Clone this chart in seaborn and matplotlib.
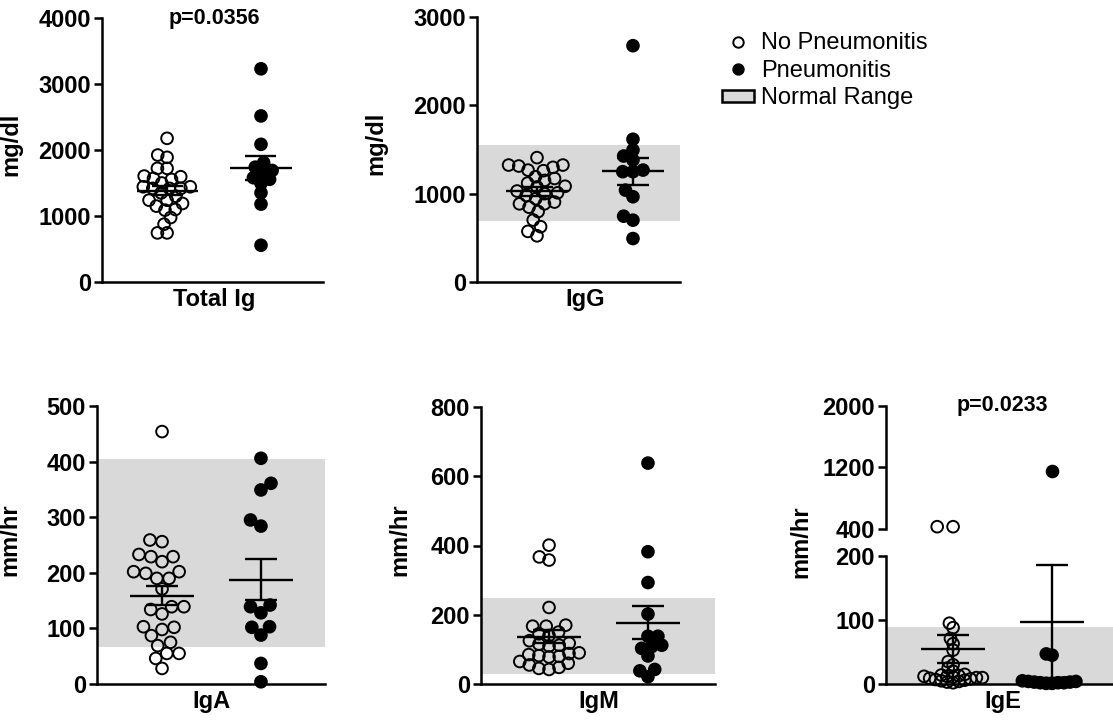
import numpy as np
import pandas as pd
import matplotlib
matplotlib.use("Agg")
import matplotlib.pyplot as plt
from matplotlib.collections import PathCollection
from matplotlib.lines import Line2D
from matplotlib.patches import Patch
import seaborn as sns

# ---------------- data ----------------
groups = ["No Pneumonitis", "Pneumonitis"]

total_no = [2177, 1924, 1889, 1722, 1722, 1605, 1595, 1570, 1554, 1500, 1443, 1443,
            1418, 1418, 1418, 1350, 1300, 1240, 1240, 1190, 1150, 1099, 1089, 977,
            876, 744, 744]
total_pn = [3230, 2516, 2086, 1808, 1740, 1690, 1640, 1580, 1556, 1494, 1352, 1180, 557]

igg_no = [1408, 1324, 1324, 1313, 1298, 1267, 1260, 1191, 1172, 1150, 1120, 1084,
          1076, 1030, 1010, 1000, 980, 943, 905, 885, 885, 847, 798, 702, 626, 573, 523]
igg_pn = [2675, 1616, 1494, 1426, 1381, 1267, 1249, 1249, 1040, 965, 745, 700, 492]

iga_no = [454, 259, 256, 233, 229, 229, 220, 202, 202, 199, 190, 190, 171, 139, 139,
          134, 126, 103, 102, 98, 87, 75, 69, 55, 55, 46, 28]
iga_pn = [406, 361, 349, 295, 284, 142, 139, 128, 103, 102, 88, 37, 4]

igm_no = [401, 367, 358, 221, 170, 167, 167, 150, 145, 140, 125, 118, 115, 112, 110,
          90, 88, 85, 82, 80, 78, 65, 60, 55, 48, 45, 42]
igm_pn = [638, 382, 293, 202, 138, 138, 112, 108, 103, 81, 42, 38, 21]

ige_no = [430, 430, 95, 88, 71, 63, 53, 35, 30, 25, 20, 15, 14, 13, 12, 12, 11, 10,
          10, 9, 8, 7, 6, 5, 4, 3, 2]
ige_pn = [1150, 47, 45, 5, 4, 4, 3, 3, 2, 2, 2, 1, 1]

igg_normal = (690, 1550)
iga_normal = (67, 405)
igm_normal = (29, 248)
ige_normal = (0, 89)

p_total = "p=0.0356"
p_ige = "p=0.0233"

# ---------------- style ----------------
sns.set_style("ticks")
plt.rcParams["font.family"] = ["Liberation Sans", "DejaVu Sans"]
plt.rcParams["font.weight"] = "bold"
plt.rcParams["axes.labelweight"] = "bold"
plt.rcParams["text.color"] = "black"
plt.rcParams["axes.labelcolor"] = "black"

W, H = 1113, 724
fig = plt.figure(figsize=(W / 100, H / 100), dpi=100)

BAND = "#d9d9d9"
DISPLAY_SIZE = 8.4
MEW = 1.4
LW = 1.7
TICK_FS = 17
palette = {groups[0]: "white", groups[1]: "black"}


def make_ax(l, t, r, b):
    return fig.add_axes([l / W, 1 - b / H, (r - l) / W, (b - t) / H])


def style_ax(ax, yticks, ylim, xlim, show_x=True):
    ax.set_ylim(*ylim)
    ax.set_xlim(*xlim)
    ax.set_yticks(yticks)
    ax.set_yticklabels([str(v) for v in yticks])
    for s in ["top", "right"]:
        ax.spines[s].set_visible(False)
    for s in ["left", "bottom"]:
        ax.spines[s].set_linewidth(1.8)
        ax.spines[s].set_color("black")
    ax.tick_params(axis="y", length=6, width=1.8, pad=2, labelsize=TICK_FS, colors="black")
    ax.tick_params(axis="x", length=0, pad=4, labelsize=17, colors="black")
    if not show_x:
        ax.spines["bottom"].set_visible(False)
        ax.set_xticks([])
    ax.set_xlabel("")
    ax.set_ylabel("")


def swarm(ax, name, no, pn, size):
    df = pd.DataFrame({
        "panel": [name] * (len(no) + len(pn)),
        "value": list(no) + list(pn),
        "group": [groups[0]] * len(no) + [groups[1]] * len(pn),
    })
    sns.swarmplot(data=df, x="panel", y="value", hue="group", hue_order=groups,
                  dodge=True, palette=palette, size=size, edgecolor="black",
                  linewidth=MEW, legend=False, ax=ax, clip_on=False, zorder=3,
                  warn_thresh=1.0)


def mean_sem(ax, no, pn):
    for off, vals in zip((-0.2, 0.2), (no, pn)):
        v = np.asarray(vals, float)
        m = v.mean()
        se = v.std(ddof=1) / np.sqrt(len(v))
        ax.hlines(m, off - 0.13, off + 0.13, color="black", lw=LW, zorder=5)
        ax.hlines([m - se, m + se], off - 0.066, off + 0.066, color="black", lw=LW, zorder=5)
        ax.vlines(off, m - se, m + se, color="black", lw=LW, zorder=5)


def ylabel(ax, text, px, py, l, t, r, b):
    ax.set_ylabel(text, fontsize=17, fontweight="bold", color="black")
    ax.yaxis.set_label_coords((px - l) / (r - l), (b - py) / (b - t))


# ---- Total Ig ----
g1 = (102, 18, 323, 282)
ax1 = make_ax(*g1)
swarm(ax1, "Total Ig", total_no, total_pn, 5.2)
mean_sem(ax1, total_no, total_pn)
style_ax(ax1, [0, 1000, 2000, 3000, 4000], (0, 4000), (-0.477, 0.464))
ylabel(ax1, "mg/dl", 22, 144, *g1)
ax1.text(0, 4000, p_total, ha="center", va="center", fontsize=15.5,
         fontweight="bold", color="black")

# ---- IgG ----
g2 = (477, 17, 680, 282)
ax2 = make_ax(*g2)
ax2.axhspan(*igg_normal, color=BAND, lw=0, zorder=0)
swarm(ax2, "IgG", igg_no, igg_pn, 5.6)
mean_sem(ax2, igg_no, igg_pn)
style_ax(ax2, [0, 1000, 2000, 3000], (0, 3000), (-0.45, 0.396))
ylabel(ax2, "mg/dl", 387, 143, *g2)

# ---- IgA ----
g3 = (97, 406, 325, 684)
ax3 = make_ax(*g3)
ax3.axhspan(*iga_normal, color=BAND, lw=0, zorder=0)
swarm(ax3, "IgA", iga_no, iga_pn, 7.0)
mean_sem(ax3, iga_no, iga_pn)
style_ax(ax3, [0, 100, 200, 300, 400, 500], (0, 500), (-0.463, 0.459))
ylabel(ax3, "mm/hr", 21, 540, *g3)

# ---- IgM ----
g4 = (481, 407, 715, 684)
ax4 = make_ax(*g4)
ax4.axhspan(*igm_normal, color=BAND, lw=0, zorder=0)
swarm(ax4, "IgM", igm_no, igm_pn, 5.6)
mean_sem(ax4, igm_no, igm_pn)
style_ax(ax4, [0, 200, 400, 600, 800], (0, 800), (-0.475, 0.471))
ylabel(ax4, "mm/hr", 411, 540, *g4)

# ---- IgE (broken axis) ----
g5 = (886, 556, 1113, 684)
g5u = (886, 406, 1113, 529)
ax5 = make_ax(*g5)
ax5u = make_ax(*g5u)
ax5u.patch.set_alpha(0)
ax5.axhspan(*ige_normal, color=BAND, lw=0, zorder=0)
cut = 300
swarm(ax5, "IgE", [v for v in ige_no if v < cut], [v for v in ige_pn if v < cut], 2.7)
swarm(ax5u, "IgE", [v for v in ige_no if v >= cut], [v for v in ige_pn if v >= cut], 9.5)
mean_sem(ax5, ige_no, ige_pn)
style_ax(ax5, [0, 100, 200], (0, 200), (-0.471, 0.446))
style_ax(ax5u, [400, 1200, 2000], (400, 2000), (-0.471, 0.446), show_x=False)
fig.text(801 / W, 1 - 542 / H, "mm/hr", rotation=90, ha="center", va="center",
         fontsize=17, fontweight="bold", color="black")
ax5u.text(0, 2000, p_ige, ha="center", va="center", fontsize=15.5,
          fontweight="bold", color="black")

for ax in (ax1, ax2, ax3, ax4, ax5):
    for lbl in ax.get_xticklabels():
        lbl.set_fontweight("bold")

# ---- legend ----
handles = [
    Line2D([], [], marker="o", ls="none", mfc="white", mec="black", mew=1.4, ms=7.5),
    Line2D([], [], marker="o", ls="none", mfc="black", mec="black", mew=1.4, ms=7.5),
    Patch(facecolor=BAND, edgecolor="black", linewidth=1.8),
]
fig.legend(handles, [groups[0], groups[1], "Normal Range"], loc="upper left",
           bbox_to_anchor=(722 / W, 1 - 32 / H), frameon=False,
           prop={"family": "Liberation Sans", "weight": "normal", "size": 17},
           handlelength=1.35, handleheight=0.45, handletextpad=0.3,
           labelspacing=0.24, borderpad=0, borderaxespad=0)

# ---- compute swarm layout compactly, then enlarge markers (GraphPad-like overlap) ----
fig.canvas.draw()
for ax in (ax1, ax2, ax3, ax4, ax5, ax5u):
    for coll in ax.collections:
        if isinstance(coll, PathCollection):
            if "draw" in coll.__dict__:
                del coll.draw
            coll.set_sizes([DISPLAY_SIZE ** 2])
            fc = coll.get_facecolor()
            if len(fc) and np.allclose(fc[0][:3], 1.0):
                coll.set_facecolor("none")

fig.savefig("out.png", dpi=100)
